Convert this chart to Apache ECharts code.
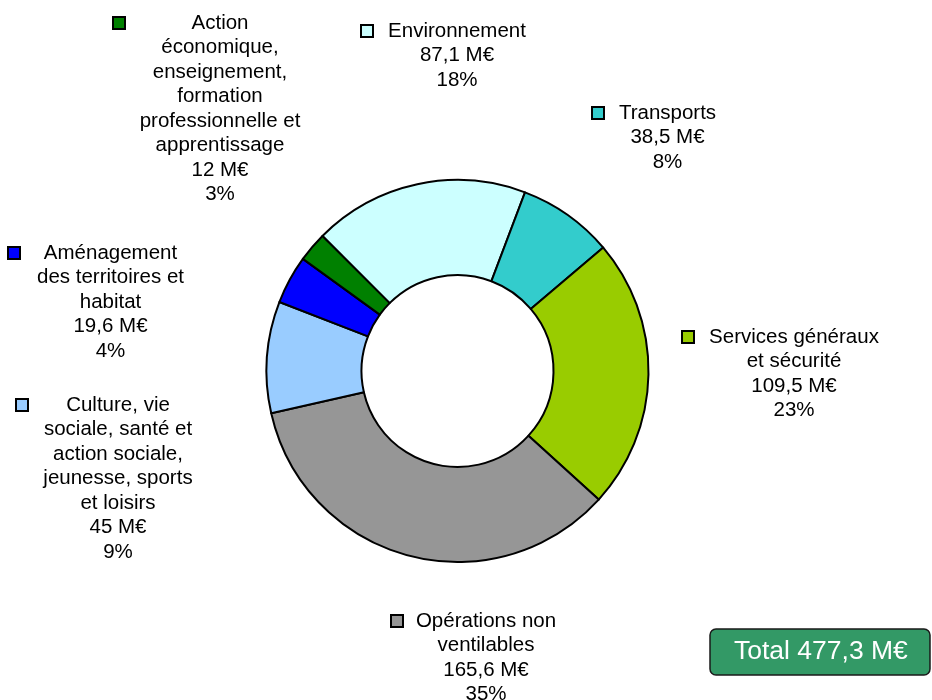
<!DOCTYPE html>
<html>
<head>
<meta charset="utf-8">
<script src="https://cdn.jsdelivr.net/npm/echarts@6/dist/echarts.min.js"></script>
<style>
  html, body { margin: 0; padding: 0; background: #fff; }
  #chart { width: 932px; height: 700px; }
</style>
</head>
<body>
<div id="chart"></div>
<script>
// catégories (retours à la ligne comme dans le graphique d'origine)
const categories = [
  'Environnement',
  'Transports',
  'Services généraux\net sécurité',
  'Opérations non\nventilables',
  'Culture, vie\nsociale, santé et\naction sociale,\njeunesse, sports\net loisirs',
  'Aménagement\ndes territoires et\nhabitat',
  'Action\néconomique,\nenseignement,\nformation\nprofessionnelle et\napprentissage'
];
// montants en M€
const values = [87.1, 38.5, 109.5, 165.6, 45, 19.6, 12];

const colors = ['#CCFFFF', '#33CCCC', '#99CC00', '#969696', '#99CCFF', '#0000FF', '#008000'];

// mise en page des étiquettes : bord gauche du carré, centre du texte, centre de la 1re ligne
const labelAnchors = [
  { mx: 362, cx: 457, cy: 31 },
  { mx: 593, cx: 667.5, cy: 113 },
  { mx: 683, cx: 794, cy: 337 },
  { mx: 392, cx: 486, cy: 621 },
  { mx: 17, cx: 118, cy: 405 },
  { mx: 9, cx: 110.5, cy: 253 },
  { mx: 114, cx: 220, cy: 23 }
];

const FONT = 'Liberation Sans';
const FS = 20.5;
const LH = 24.5;
const MARK = 10;
const GAP = 13;

const total = Math.round(values.reduce((a, b) => a + b, 0) * 10) / 10;
const fmt = v => String(v).replace('.', ',');

let rich = {
  g: { width: GAP, height: MARK, lineHeight: LH, align: 'left' },
  s: { width: MARK + GAP, lineHeight: LH, align: 'left' }
};
categories.forEach((c, i) => {
  rich['m' + i] = {
    width: MARK, height: MARK, lineHeight: LH, align: 'left',
    backgroundColor: colors[i], borderColor: '#000', borderWidth: 2
  };
  rich['t' + i] = {
    width: 2 * (labelAnchors[i].cx - labelAnchors[i].mx - MARK - GAP),
    align: 'center', lineHeight: LH,
    fontFamily: FONT, fontSize: FS, color: '#000'
  };
});

var chart = echarts.init(document.getElementById('chart'));
chart.setOption({
  backgroundColor: '#fff',
  animation: false,
  title: {
    text: 'Total ' + fmt(total) + ' M€',
    left: 710,
    top: 629,
    padding: [8, 22, 8, 24],
    backgroundColor: '#339966',
    borderColor: '#1a1a1a',
    borderWidth: 1.5,
    borderRadius: 6,
    textStyle: {
      color: '#fff',
      fontFamily: FONT,
      fontSize: 26.5,
      fontWeight: 'normal',
      lineHeight: 30
    }
  },
  series: [
    {
      type: 'pie',
      center: [457.5, 371],
      radius: [96, 191],
      startAngle: 135,
      clockwise: true,
      avoidLabelOverlap: false,
      silent: true,
      itemStyle: {
        borderColor: '#000',
        borderWidth: 2
      },
      label: {
        show: true,
        position: 'outside',
        color: '#000',
        fontFamily: FONT,
        fontSize: FS,
        lineHeight: LH,
        formatter: function (p) {
          let i = p.dataIndex;
          let lines = categories[i].split('\n');
          lines.push(fmt(values[i]) + ' M€');
          lines.push(Math.round(values[i] / total * 100) + '%');
          return lines.map(function (l, k) {
            return k === 0 ? '{m' + i + '|}{g|}{t' + i + '|' + l + '}' : '{s|}{t' + i + '|' + l + '}';
          }).join('\n');
        },
        rich: rich
      },
      labelLine: { show: false },
      labelLayout: function (params) {
        let a = labelAnchors[params.dataIndex];
        return {
          x: a.mx,
          y: a.cy - LH / 2,
          align: 'left',
          verticalAlign: 'top'
        };
      },
      emphasis: { disabled: true },
      data: categories.map(function (c, i) {
        return { name: c, value: values[i], itemStyle: { color: colors[i] } };
      })
    }
  ]
});
</script>
</body>
</html>
